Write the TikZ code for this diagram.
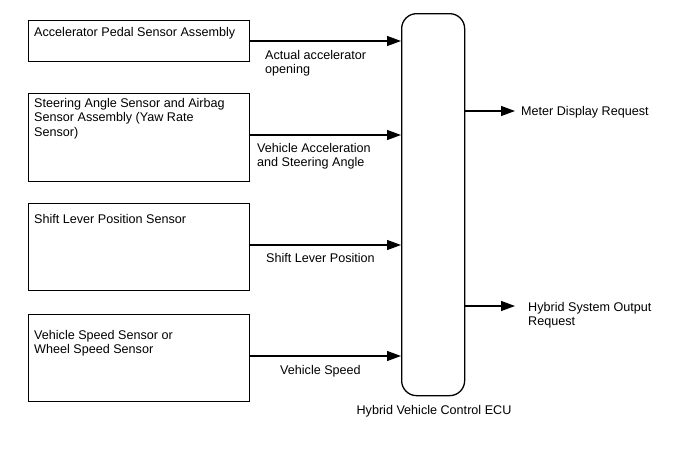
\documentclass[tikz,border=0pt]{standalone}
\usepackage{fontspec}
\setmainfont{Liberation Sans}
\usetikzlibrary{arrows.meta}
\begin{document}
\begin{tikzpicture}[x=1pt,y=-1pt,
  every node/.style={font=\fontsize{12.6}{14.4}\selectfont},
  sbox/.style={draw,line width=1.3pt,minimum width=221pt,anchor=north west,inner sep=0pt},
  btext/.style={anchor=north west,align=left,inner sep=0pt},
  lbl/.style={anchor=north west,align=left,inner sep=0pt},
  conn/.style={line width=1.2pt,-{Triangle[length=14pt,width=10pt]}}]
\useasboundingbox (0,0) rectangle (688,463);
% sensor boxes
\node[sbox,minimum height=41pt] (b1) at (28,20) {};
\node[sbox,minimum height=88pt] (b2) at (28,93) {};
\node[sbox,minimum height=87pt] (b3) at (28,203) {};
\node[sbox,minimum height=87pt] (b4) at (28,314) {};
\node[btext] (t1) at (34,27) {Accelerator Pedal Sensor Assembly};
\node[btext] (t2) at (34,98) {Steering Angle Sensor and Airbag\\Sensor Assembly (Yaw Rate\\Sensor)};
\node[btext] (t3) at (34,214) {Shift Lever Position Sensor};
\node[btext] (t4) at (34,330) {Vehicle Speed Sensor or\\Wheel Speed Sensor};
% ECU
\node[draw,line width=1.3pt,rounded corners=15pt,minimum width=63pt,minimum height=382pt,anchor=north west,inner sep=0pt] (ecu) at (401,13) {};
\node[anchor=north,inner sep=0pt] (ecul) at (434,405) {Hybrid Vehicle Control ECU};
% input connectors
\coordinate (e1) at (401,41);
\coordinate (e2) at (401,135);
\coordinate (e3) at (401,245);
\coordinate (e4) at (401,356);
\draw[conn] (b1.east |- e1) -- (e1);
\draw[conn] (b2.east |- e2) -- (e2);
\draw[conn] (b3.east |- e3) -- (e3);
\draw[conn] (b4.east |- e4) -- (e4);
\node[lbl] (l1) at (265,50) {Actual accelerator\\opening};
\node[lbl] (l2) at (257,143) {Vehicle Acceleration\\and Steering Angle};
\node[lbl] (l3) at (266,253) {Shift Lever Position};
\node[lbl] (l4) at (280,365) {Vehicle Speed};
% outputs
\coordinate (o1) at (515,111);
\coordinate (o2) at (515,306);
\draw[conn] (ecu.east |- o1) -- (o1);
\draw[conn] (ecu.east |- o2) -- (o2);
\node[anchor=west,inner sep=0pt] (m1) at (521,112) {Meter Display Request};
\node[lbl] (m2) at (528,302) {Hybrid System Output\\Request};
\end{tikzpicture}
\end{document}
